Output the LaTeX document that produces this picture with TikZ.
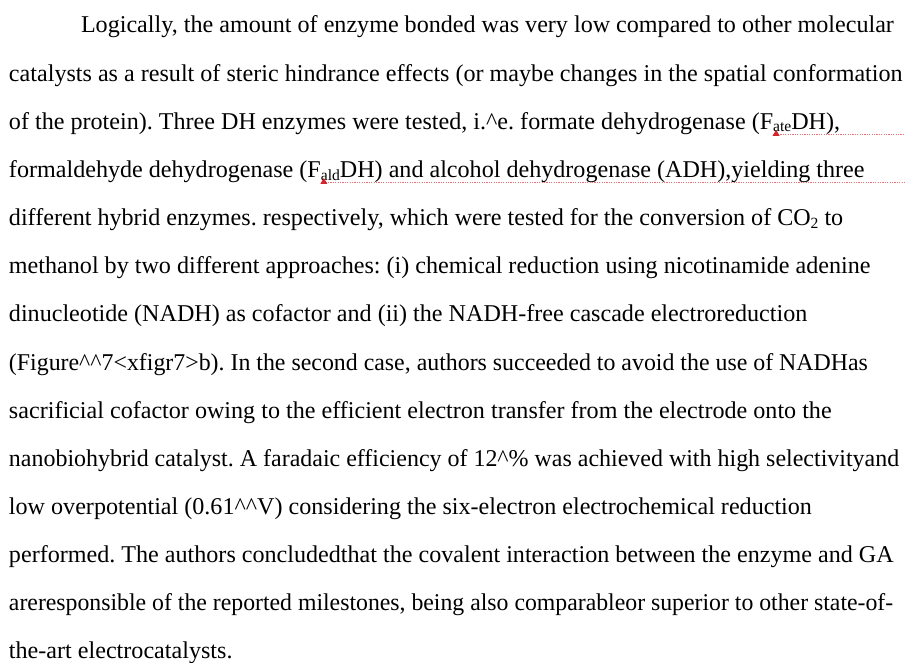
\documentclass[tikz,border=0pt]{standalone}
\usepackage{fontspec}
\setmainfont{Liberation Serif}[Ligatures={TeX,NoCommon}]
\newcommand{\subtxt}[1]{\raisebox{-2.6pt}{\fontsize{15.6pt}{16pt}\selectfont #1}}
\newcommand{\caret}{\textasciicircum}
\definecolor{marker}{RGB}{212,36,48}
\definecolor{wavy}{RGB}{236,112,116}
\frenchspacing

\begin{document}
\begin{tikzpicture}[x=1pt,y=-1pt,
  txt/.style={anchor=base west, inner sep=0pt, outer sep=0pt,
    font=\fontsize{24.1pt}{28pt}\selectfont},
  flag/.style={fill=marker, draw=none},
  spell/.style={draw=wavy, line width=1.2pt, dash pattern=on 1.2pt off 1.2pt}]

\path[use as bounding box, fill=white] (0,0) rectangle (905,663);

% paragraph, one node per printed line
\node[txt] (l1) at (81,33) {Logically, the amount of enzyme bonded was very low compared to other molecular};
\node[txt] (l2) at (9,81.15) {catalysts as a result of steric hindrance effects (or maybe changes in the spatial conformation};
\node[txt] (l3a) at (9,129.3) {of the protein). Three DH enzymes were tested, i.\caret e. formate dehydrogenase (F};
\node[txt] (l3b) at (l3a.base east) {\subtxt{ate}DH),};
\node[txt] (l4a) at (9,177.45) {formaldehyde dehydrogenase (F};
\node[txt] (l4b) at (l4a.base east) {\subtxt{ald}DH) and alcohol dehydrogenase (ADH),yielding three};
\node[txt] (l5) at (9,225.6) {different hybrid enzymes. respectively, which were tested for the conversion of CO\subtxt{2} to};
\node[txt] (l6) at (9,273.75) {methanol by two different approaches: (i) chemical reduction using nicotinamide adenine};
\node[txt] (l7) at (9,321.9) {dinucleotide (NADH) as cofactor and (ii) the NADH-free cascade electroreduction};
\node[txt] (l8) at (9,370.05) {\scalebox{0.99}[1]{(Figure\caret\caret 7<xfigr7>b). In the second case, authors succeeded to avoid the use of NADHas}};
\node[txt] (l9) at (9,418.2) {sacrificial cofactor owing to the efficient electron transfer from the electrode onto the};
\node[txt] (l10) at (9,466.35) {\scalebox{0.994}[1]{nanobiohybrid catalyst. A faradaic efficiency of 12\caret\% was achieved with high selectivityand}};
\node[txt] (l11) at (9,514.5) {low overpotential (0.61\caret\caret V) considering the six-electron electrochemical reduction};
\node[txt] (l12) at (9,562.65) {performed. The authors concludedthat the covalent interaction between the enzyme and GA};
\node[txt] (l13) at (9,610.8) {\scalebox{0.986}[1]{areresponsible of the reported milestones, being also comparableor superior to other state-of-}};
\node[txt] (l14) at (9,658.95) {the-art electrocatalysts.};

% proofing marks under the subscripted names
\coordinate (m3) at (l3a.base east);
\coordinate (m4) at (l4a.base east);
\coordinate (edge) at (905,0);
\draw[spell] ([yshift=-5.3pt]m3) -- ([yshift=-5.3pt]m3 -| edge);
\draw[spell] ([yshift=-5.3pt]m4) -- ([yshift=-5.3pt]m4 -| edge);
\fill[flag] (m3) ++(-0.5,6.5) -- ++(7,0) -- ++(-3.5,-6) -- cycle;
\fill[flag] (m4) ++(-0.5,6.5) -- ++(7,0) -- ++(-3.5,-6) -- cycle;
\end{tikzpicture}
\end{document}
